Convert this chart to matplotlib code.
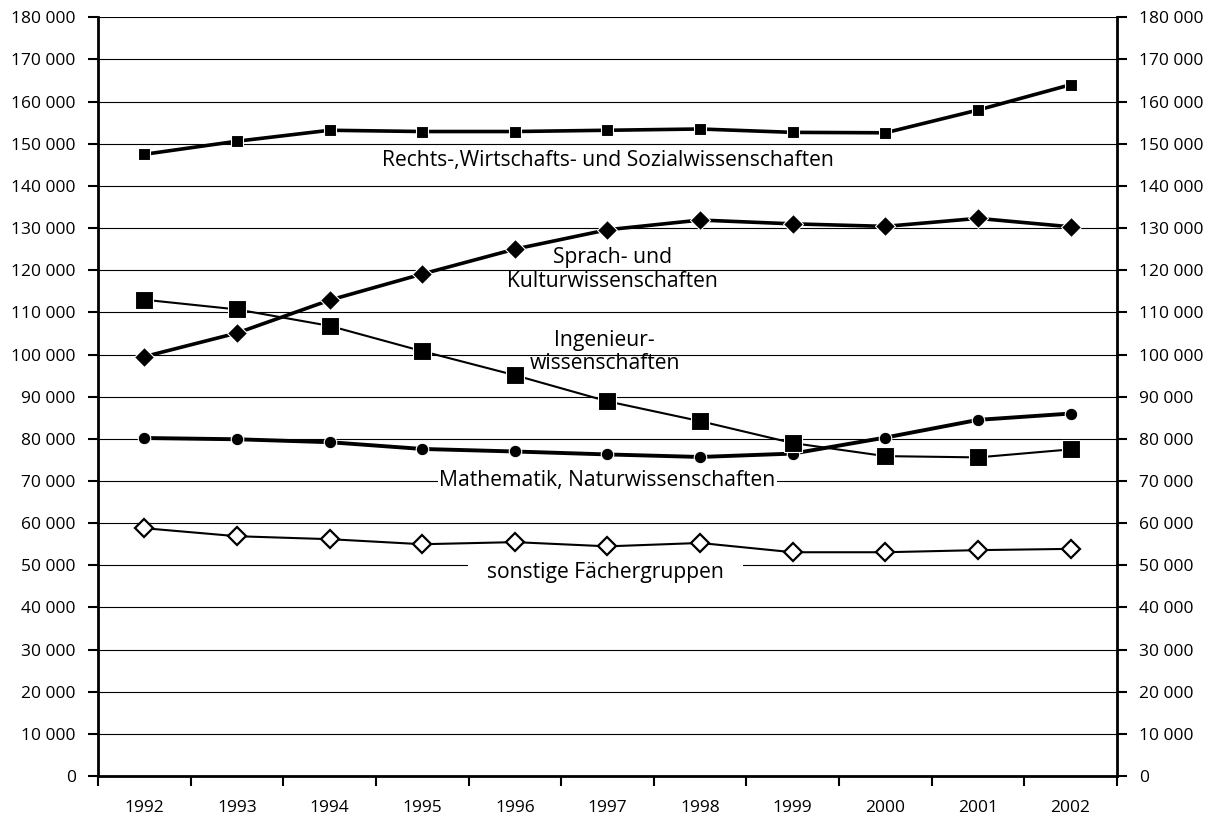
import matplotlib.pyplot as plt
import numpy as np
from matplotlib.ticker import FuncFormatter

plt.rcParams['font.family'] = ['Open Sans', 'DejaVu Sans']

years = ['1992', '1993', '1994', '1995', '1996', '1997', '1998', '1999', '2000', '2001', '2002']

rechts = [147500, 150600, 153200, 152900, 152900, 153200, 153500, 152700, 152600, 158000, 164000]
sprach = [99500, 105100, 112900, 119100, 125000, 129600, 131900, 131000, 130400, 132300, 130300]
ingenieur = [113000, 110700, 106800, 100800, 95100, 88900, 84200, 79000, 75900, 75600, 77500]
mathe = [80200, 79900, 79200, 77600, 77000, 76300, 75700, 76500, 80300, 84500, 86000]
sonstige = [58800, 56900, 56200, 55000, 55500, 54500, 55300, 53100, 53100, 53600, 53900]

# label text and position (category index, value)
labels = [
    ("Rechts-,Wirtschafts- und Sozialwissenschaften", 5.0, 146100),
    ("Sprach- und\nKulturwissenschaften", 5.05, 120200),
    ("Ingenieur-\nwissenschaften", 4.97, 100600),
    ("Mathematik, Naturwissenschaften", 5.0, 70000),
    ("sonstige Fächergruppen", 4.98, 48400),
]
# white box padding around each label (points), None = no box
label_pads = [1.5, None, None, 1.0, 14]

fig = plt.figure(figsize=(12.18, 8.23), dpi=100)
ax = fig.add_axes([0.0805, 0.057, 0.8365, 0.922])

x = np.arange(len(years))

ax.plot(x, rechts, color='black', lw=2.6, marker='s', ms=9,
        mfc='black', mec='white', mew=0.8, zorder=4)
ax.plot(x, sprach, color='black', lw=2.6, marker='D', ms=10.5,
        mfc='black', mec='white', mew=0.8, zorder=4)
ax.plot(x, ingenieur, color='black', lw=1.5, marker='s', ms=12.5,
        mfc='black', mec='white', mew=0.8, zorder=5)
ax.plot(x, mathe, color='black', lw=2.8, marker='o', ms=9,
        mfc='black', mec='white', mew=0.8, zorder=4)
ax.plot(x, sonstige, color='black', lw=1.5, marker='D', ms=9,
        mfc='white', mec='black', mew=1.6, zorder=4)

for (txt, lx, ly), pad in zip(labels, label_pads):
    box = None
    if pad is not None:
        box = dict(facecolor='white', edgecolor='none', pad=pad)
    ax.text(lx, ly, txt, ha='center', va='center', fontsize=15.2,
            linespacing=1.15, zorder=3, bbox=box)

ax.set_xlim(-0.5, len(years) - 0.5)
ax.set_ylim(0, 180000)
ax.set_yticks(np.arange(0, 180001, 10000))
fmt = FuncFormatter(lambda v, p: f"{int(v):,}".replace(",", " "))
ax.yaxis.set_major_formatter(fmt)
ax.grid(axis='y', color='black', lw=0.8, zorder=1)

# categories centred between boundary ticks
ax.set_xticks(np.arange(-0.5, len(years), 1.0))
ax.set_xticklabels([])
ax.set_xticks(x, minor=True)
ax.set_xticklabels(years, minor=True, fontsize=12.5)
ax.tick_params(axis='x', which='major', direction='out', length=7, width=1.5)
ax.tick_params(axis='x', which='minor', length=0, pad=17)

ax.tick_params(axis='y', direction='out', length=7, width=1.5, labelsize=12.5,
               left=True, right=True, labelleft=True, labelright=True, pad=9)

for side in ['left', 'right', 'bottom']:
    ax.spines[side].set_linewidth(2)
ax.spines['top'].set_visible(False)

fig.savefig('out.png', dpi=100)
